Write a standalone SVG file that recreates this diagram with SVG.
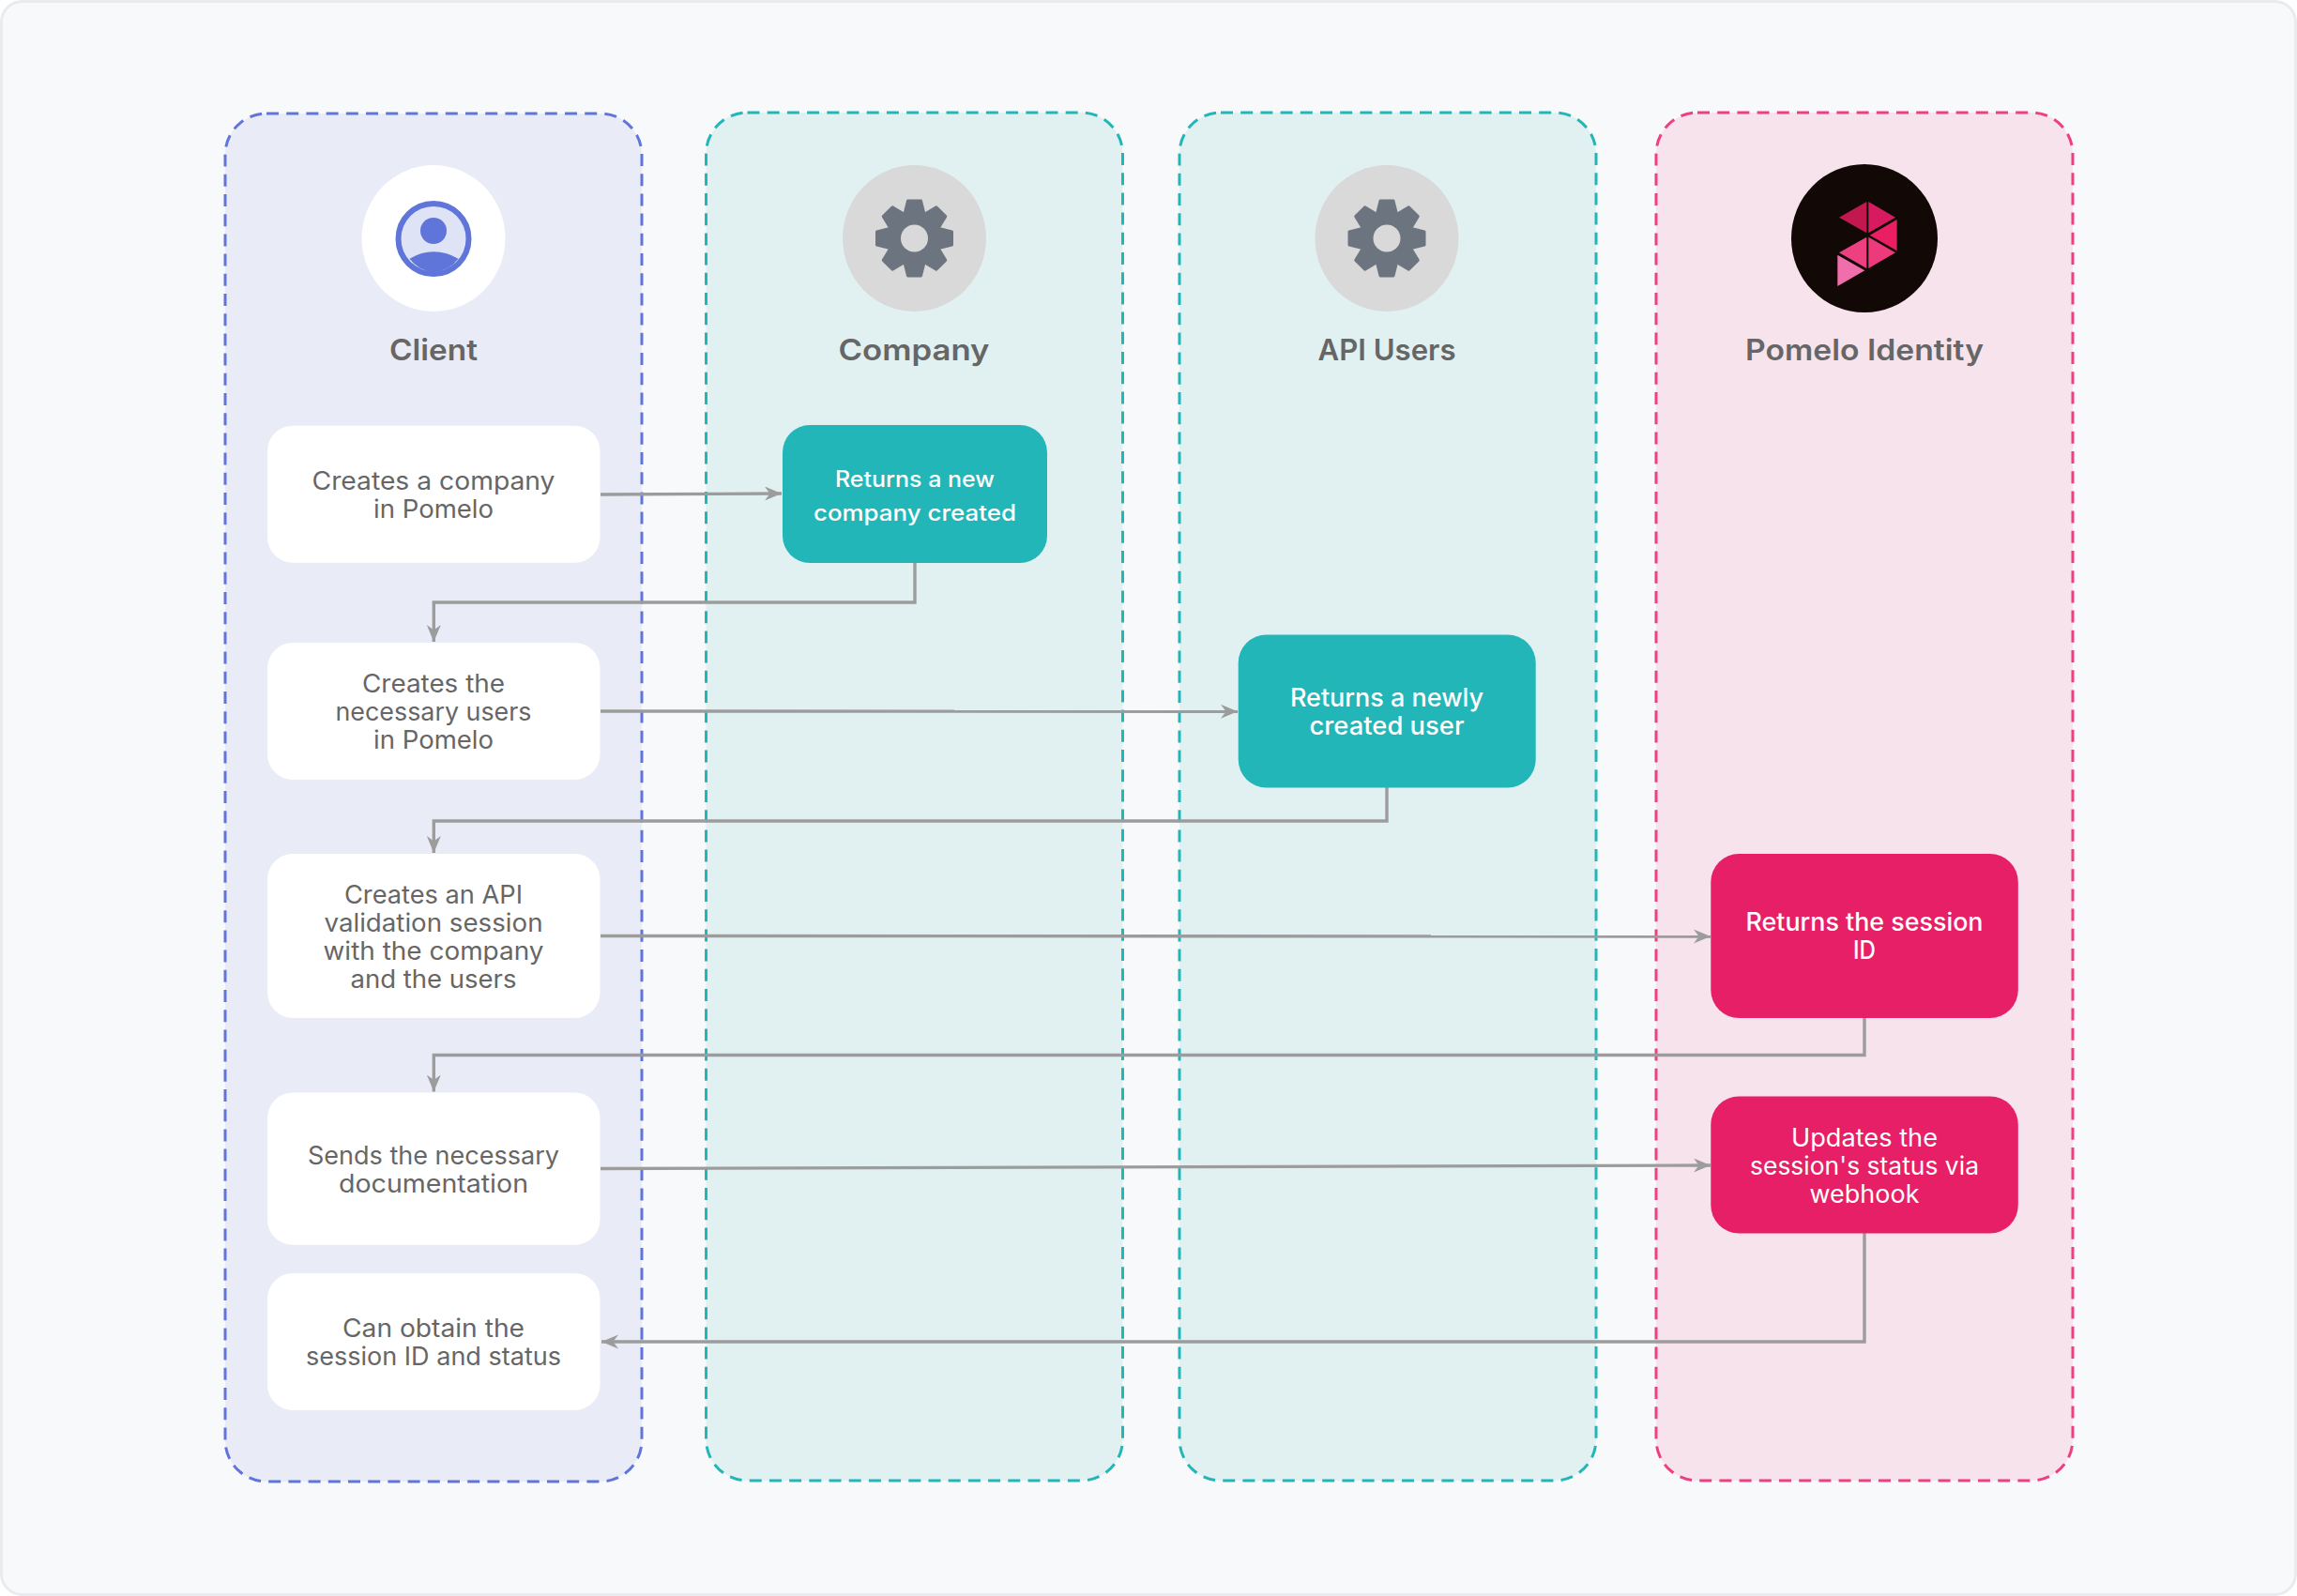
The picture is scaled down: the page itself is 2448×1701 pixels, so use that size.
<svg xmlns="http://www.w3.org/2000/svg" width="2448" height="1701" viewBox="0 0 2448 1701">
<style>
text{font-family:"Inter","Liberation Sans",sans-serif;text-anchor:middle}
.h{font-size:31px;font-weight:600;fill:#666666}
.c{font-size:26.5px;font-weight:400;fill:#666666}
.w{font-size:26.5px;font-weight:500;fill:#ffffff}
.l{font-size:26.5px;font-weight:400;fill:#ffffff}
.s{font-size:24px;font-weight:500;fill:#ffffff}
.lane{stroke-width:3;stroke-dasharray:13 8.2}
.card{fill:#ffffff}
.teal{fill:#22b6b8}
.pink{fill:#e71f66}
.conn{fill:none;stroke:#9c9c9c;stroke-width:3.4;marker-end:url(#arrow)}
.gear{fill:#6c757f}
</style>
<defs>
<marker id="arrow" markerUnits="userSpaceOnUse" markerWidth="20" markerHeight="16" refX="18" refY="7.5" orient="auto">
<path d="M0 0L18 7.5L0 15L5.5 7.5Z" fill="#9c9c9c"/>
</marker>
<g id="gear">
<circle r="29" class="gear"/>
<g class="gear" stroke="#6c757f" stroke-width="3" stroke-linejoin="round">
<polygon id="tooth" points="-7,-40 7,-40 11,-24 -11,-24"/>
<polygon points="-7,-40 7,-40 11,-24 -11,-24" transform="rotate(45)"/>
<polygon points="-7,-40 7,-40 11,-24 -11,-24" transform="rotate(90)"/>
<polygon points="-7,-40 7,-40 11,-24 -11,-24" transform="rotate(135)"/>
<polygon points="-7,-40 7,-40 11,-24 -11,-24" transform="rotate(180)"/>
<polygon points="-7,-40 7,-40 11,-24 -11,-24" transform="rotate(225)"/>
<polygon points="-7,-40 7,-40 11,-24 -11,-24" transform="rotate(270)"/>
<polygon points="-7,-40 7,-40 11,-24 -11,-24" transform="rotate(315)"/>
</g>
<circle r="14.5" fill="#d9d9d9"/>
</g>
</defs>
<rect width="2448" height="1701" fill="#ffffff"/>
<rect x="1.5" y="1.5" width="2445" height="1698" rx="22" fill="#f8f9fb" stroke="#e9ebee" stroke-width="3"/>

<g id="lane-client">
<rect class="lane" x="240" y="121" width="444" height="1458" rx="44" fill="#e9ecf7" stroke="#6075d9"/>
<ellipse cx="462" cy="254" rx="76.5" ry="78" fill="#ffffff"/>
<circle cx="462" cy="254.5" r="37.5" fill="#dfe3f6" stroke="#6075d9" stroke-width="6"/>
<circle cx="462" cy="246" r="14" fill="#6075d9"/>
<path d="M436.5 275.7Q462 261 488.5 275.7A36 36 0 0 1 462 290A36 36 0 0 1 436.5 275.7Z" fill="#6075d9"/>
<text class="h" x="462" y="384" textLength="94" lengthAdjust="spacingAndGlyphs">Client</text>
</g>
<g id="lane-company">
<rect class="lane" x="752.5" y="120" width="444" height="1458" rx="44" fill="#e1f1f2" stroke="#22b6b8"/>
<ellipse cx="974.5" cy="254" rx="76.5" ry="78" fill="#d9d9d9"/>
<use href="#gear" x="974.5" y="254"/>
<text class="h" x="974" y="384" textLength="161" lengthAdjust="spacingAndGlyphs">Company</text>
</g>
<g id="lane-api-users">
<rect class="lane" x="1257" y="120" width="444" height="1458" rx="44" fill="#e1f1f2" stroke="#22b6b8"/>
<ellipse cx="1478" cy="254" rx="76.5" ry="78" fill="#d9d9d9"/>
<use href="#gear" x="1478" y="254"/>
<text class="h" x="1478" y="384" textLength="147" lengthAdjust="spacingAndGlyphs">API Users</text>
</g>
<g id="lane-pomelo">
<rect class="lane" x="1765" y="120" width="444" height="1458" rx="44" fill="#f6e3ec" stroke="#ee3f82"/>
<ellipse cx="1987" cy="254" rx="78" ry="79" fill="#120906"/>
<g transform="translate(1880 150) scale(.3333)">
<polygon points="240,245 328,195 328,295" fill="#c2184f"/>
<polygon points="334,195 420,245 334,295" fill="#d81b60"/>
<polygon points="425,252 425,352 338,302" fill="#e91e63"/>
<polygon points="240,358 328,308 328,408" fill="#ee3f80"/>
<polygon points="334,308 420,358 334,408" fill="#ec3a7c"/>
<polygon points="235,365 322,415 235,465" fill="#f06eab"/>
</g>
<text class="h" x="1987" y="384" textLength="254" lengthAdjust="spacingAndGlyphs">Pomelo Identity</text>
</g>

<g id="connectors">
<path class="conn" d="M640 527L833 526"/>
<path class="conn" d="M975 600V642H462.3V684"/>
<path class="conn" d="M640 758L1319 758.3"/>
<path class="conn" d="M1478 839V875H462.3V909"/>
<path class="conn" d="M640 997.5L1823 998"/>
<path class="conn" d="M1987 1085V1124.5H462.3V1163.5"/>
<path class="conn" d="M640 1245.5L1823 1242"/>
<path class="conn" d="M1987 1314V1430H641"/>
</g>

<g id="node-creates-company">
<rect class="card" x="285" y="453.7" width="354.5" height="146" rx="27"/>
<text class="c" x="462" y="521.7" textLength="259" lengthAdjust="spacingAndGlyphs">Creates a company</text>
<text class="c" x="462" y="551.5" textLength="128" lengthAdjust="spacingAndGlyphs">in Pomelo</text>
</g>
<g id="node-creates-users">
<rect class="card" x="285" y="685" width="354.5" height="146" rx="27"/>
<text class="c" x="462" y="737.7" textLength="152" lengthAdjust="spacingAndGlyphs">Creates the</text>
<text class="c" x="462" y="767.7" textLength="209" lengthAdjust="spacingAndGlyphs">necessary users</text>
<text class="c" x="462" y="797.7" textLength="128" lengthAdjust="spacingAndGlyphs">in Pomelo</text>
</g>
<g id="node-creates-session">
<rect class="card" x="285" y="910" width="354.5" height="175" rx="27"/>
<text class="c" x="462" y="962.7" textLength="190" lengthAdjust="spacingAndGlyphs">Creates an API</text>
<text class="c" x="462" y="992.7" textLength="233" lengthAdjust="spacingAndGlyphs">validation session</text>
<text class="c" x="462" y="1022.7" textLength="235" lengthAdjust="spacingAndGlyphs">with the company</text>
<text class="c" x="462" y="1052.7" textLength="177" lengthAdjust="spacingAndGlyphs">and the users</text>
</g>
<g id="node-sends-docs">
<rect class="card" x="285" y="1164.5" width="354.5" height="162.3" rx="27"/>
<text class="c" x="462" y="1240.5" textLength="268" lengthAdjust="spacingAndGlyphs">Sends the necessary</text>
<text class="c" x="462" y="1270.5" textLength="202" lengthAdjust="spacingAndGlyphs">documentation</text>
</g>
<g id="node-obtain">
<rect class="card" x="285" y="1357" width="354.5" height="146" rx="27"/>
<text class="c" x="462" y="1425" textLength="194" lengthAdjust="spacingAndGlyphs">Can obtain the</text>
<text class="c" x="462" y="1455" textLength="272" lengthAdjust="spacingAndGlyphs">session ID and status</text>
</g>
<g id="node-returns-company">
<rect class="teal" x="834" y="453" width="282" height="147" rx="29"/>
<text class="s" x="975" y="519" textLength="170" lengthAdjust="spacingAndGlyphs">Returns a new</text>
<text class="s" x="975" y="555" textLength="216" lengthAdjust="spacingAndGlyphs">company created</text>
</g>
<g id="node-returns-user">
<rect class="teal" x="1319.7" y="676.5" width="317" height="163" rx="30"/>
<text class="w" x="1478" y="753" textLength="206" lengthAdjust="spacingAndGlyphs">Returns a newly</text>
<text class="w" x="1478" y="783" textLength="165" lengthAdjust="spacingAndGlyphs">created user</text>
</g>
<g id="node-returns-session">
<rect class="pink" x="1823.3" y="910" width="327.5" height="175" rx="30"/>
<text class="w" x="1987" y="992" textLength="253" lengthAdjust="spacingAndGlyphs">Returns the session</text>
<text class="w" x="1987" y="1022" textLength="24" lengthAdjust="spacingAndGlyphs">ID</text>
</g>
<g id="node-updates-status">
<rect class="pink" x="1823.3" y="1168.5" width="327.5" height="146" rx="30"/>
<text class="l" x="1987" y="1222" textLength="156" lengthAdjust="spacingAndGlyphs">Updates the</text>
<text class="l" x="1987" y="1252" textLength="244" lengthAdjust="spacingAndGlyphs">session's status via</text>
<text class="l" x="1987" y="1282" textLength="117" lengthAdjust="spacingAndGlyphs">webhook</text>
</g>
</svg>
